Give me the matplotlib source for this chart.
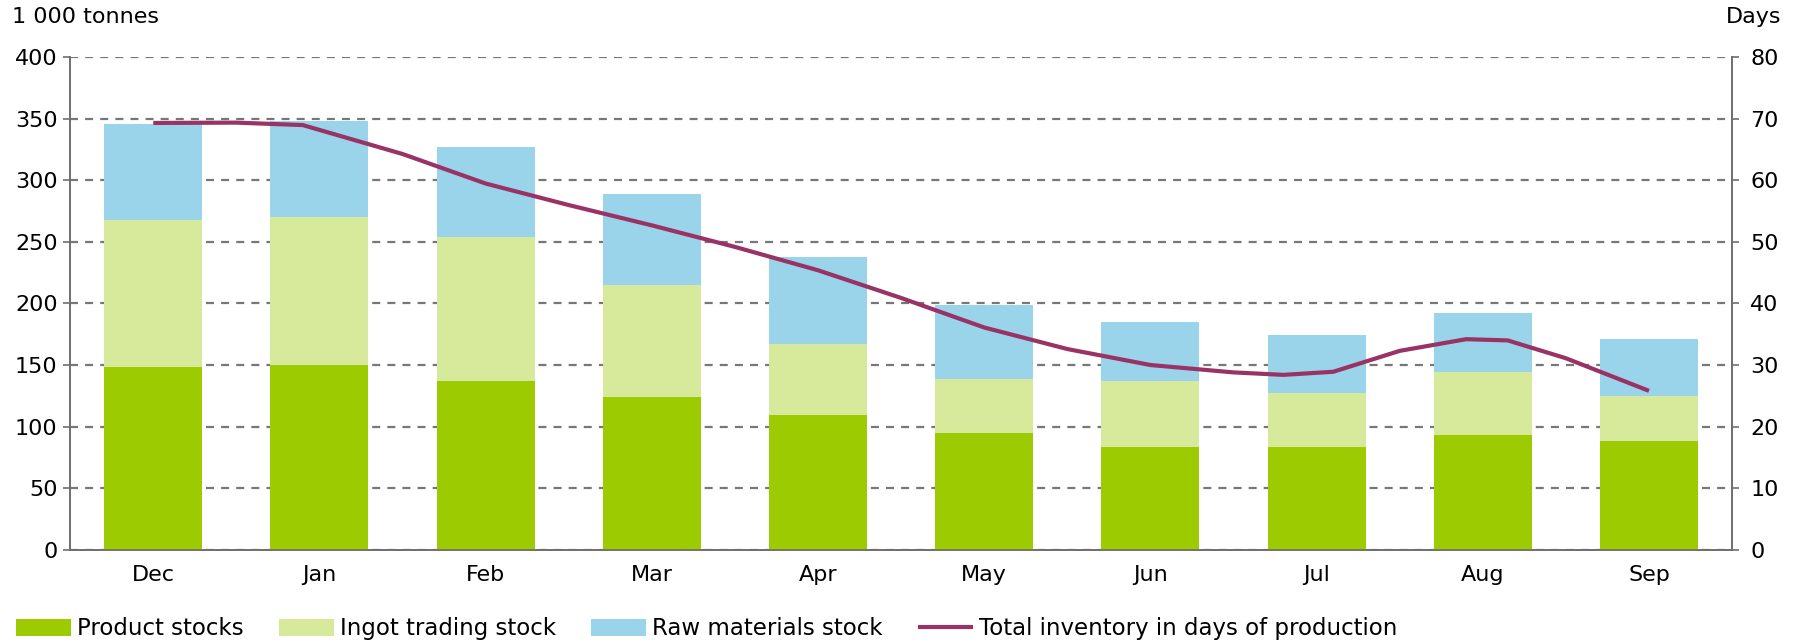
import matplotlib
matplotlib.use("Agg")
import matplotlib.pyplot as plt
import numpy as np

months = ["Dec", "Jan", "Feb", "Mar", "Apr", "May", "Jun", "Jul", "Aug", "Sep"]
product_stocks = [148, 150, 137, 124, 109, 95, 83, 83, 93, 88]
ingot_trading_stock = [120, 120, 117, 91, 58, 44, 54, 44, 51, 37]
raw_materials_stock = [78, 78, 73, 74, 71, 60, 48, 47, 48, 46]

# Total inventory in days of production, semi-monthly readings (Dec ... Sep)
days_positions = [0, 0.5, 0.9, 1.5, 2, 2.5, 3, 3.5, 4, 4.5, 5, 5.5, 6, 6.5, 6.8, 7.1, 7.5, 7.9, 8.15, 8.5, 9]
days_values = [69.35, 69.4, 69.0, 64.3, 59.5, 56.0, 52.7, 49.2, 45.4, 40.9,
               36.1, 32.6, 30.0, 28.8, 28.4, 28.9, 32.3, 34.2, 34.0, 31.1, 25.8]

left_ticks = [0, 50, 100, 150, 200, 250, 300, 350, 400]
right_ticks = [0, 10, 20, 30, 40, 50, 60, 70, 80]

c_prod = "#9BCB00"
c_ingot = "#D7EA9B"
c_raw = "#9AD4EA"
c_line = "#993366"
axis_col = "#6E6E6E"

plt.rcParams["font.family"] = ["DejaVu Sans"]
fs = 16

fig = plt.figure(figsize=(17.99, 6.43), dpi=100)
ax = fig.add_axes([0.0390, 0.1453, 0.9238, 0.7654])
ax2 = ax.twinx()

x = np.arange(len(months))
w = 0.59
b1 = ax.bar(x, product_stocks, w, color=c_prod, zorder=3, label="Product stocks")
bottom2 = np.array(product_stocks)
b2 = ax.bar(x, ingot_trading_stock, w, bottom=bottom2, color=c_ingot, zorder=3,
            label="Ingot trading stock")
bottom3 = bottom2 + np.array(ingot_trading_stock)
b3 = ax.bar(x, raw_materials_stock, w, bottom=bottom3, color=c_raw, zorder=3,
            label="Raw materials stock")

ax.set_xlim(-0.5, len(months) - 0.5)
ax.set_ylim(0, 400)
ax.set_yticks(left_ticks)
ax.set_yticklabels([str(t) for t in left_ticks])
ax.yaxis.grid(True, color="#777777", linewidth=1.6, linestyle=(0, (3.6, 3.2)), zorder=0)
ax.set_axisbelow(True)
ax.set_xticks(x)
ax.set_xticklabels(months)

ln, = ax2.plot(days_positions, days_values, color=c_line, linewidth=3.0,
               solid_capstyle="butt", solid_joinstyle="round", zorder=5,
               label="Total inventory in days of production")
ax2.set_ylim(0, 80)
ax2.set_yticks(right_ticks)
ax2.set_yticklabels([str(t) for t in right_ticks])

for a in (ax, ax2):
    a.spines["top"].set_visible(False)
    for s in ("left", "right", "bottom"):
        a.spines[s].set_color(axis_col)
        a.spines[s].set_linewidth(1.2)
    a.tick_params(axis="y", labelsize=fs, colors=axis_col, labelcolor="black",
                  length=5, width=1.2, pad=4)
ax.tick_params(axis="x", length=0, labelsize=fs, pad=11)
ax2.tick_params(axis="y", pad=8)

fig.text(0.0065, 0.974, "1 000 tonnes", fontsize=fs, ha="left", va="center")
fig.text(0.990, 0.974, "Days", fontsize=fs, ha="right", va="center")

handles = [b1, b2, b3, ln]
labels = [h.get_label() for h in handles]
fig.legend(handles, labels, loc="center left", bbox_to_anchor=(0.009, 0.022),
           ncol=4, frameon=False, fontsize=16.5, handlelength=2.4, handleheight=0.8,
           handletextpad=0.25, columnspacing=1.55, borderaxespad=0, borderpad=0)

fig.savefig("out.png", dpi=100)
